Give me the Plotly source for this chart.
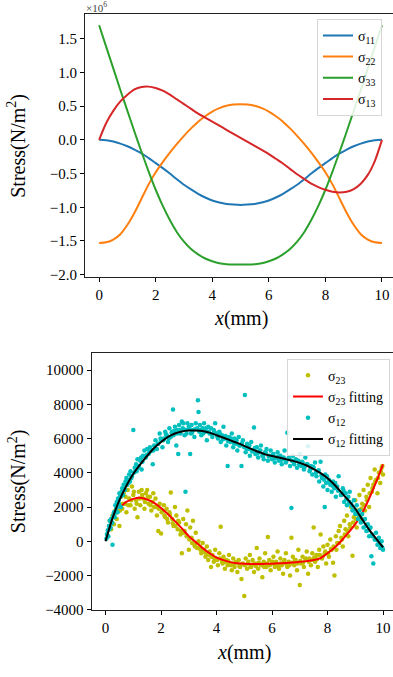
import plotly.graph_objects as go

# ---------------- top panel data (values in units of 1e6 N/m^2) ----------------
x_top = [0, 0.25, 0.5, 0.75, 1.0, 1.25, 1.5, 1.75, 2.0, 2.25, 2.5, 2.75, 3.0, 3.25,
         3.5, 3.75, 4.0, 4.25, 4.5, 4.75, 5.0, 5.25, 5.5, 5.75, 6.0, 6.25, 6.5, 6.75,
         7.0, 7.25, 7.5, 7.75, 8.0, 8.25, 8.5, 8.75, 9.0, 9.25, 9.5, 9.75, 10.0]
s11 = [0, -0.005, -0.025, -0.055, -0.095, -0.145, -0.20, -0.27, -0.345, -0.42, -0.50, -0.585, -0.665, -0.735,
       -0.80, -0.855, -0.90, -0.93, -0.95, -0.96, -0.965, -0.96, -0.95, -0.93, -0.90, -0.855, -0.80, -0.735,
       -0.665, -0.585, -0.50, -0.42, -0.345, -0.27, -0.20, -0.145, -0.095, -0.055, -0.025, -0.005, 0]
s22 = [-1.53, -1.52, -1.48, -1.40, -1.26, -1.08, -0.87, -0.66, -0.48, -0.33, -0.19, -0.06, 0.06, 0.17,
       0.27, 0.35, 0.42, 0.47, 0.505, 0.525, 0.53, 0.525, 0.505, 0.47, 0.42, 0.35, 0.27, 0.17,
       0.06, -0.06, -0.19, -0.33, -0.48, -0.66, -0.87, -1.08, -1.26, -1.40, -1.48, -1.52, -1.53]
s33 = [1.70, 1.38, 1.06, 0.74, 0.43, 0.12, -0.18, -0.47, -0.74, -0.98, -1.19, -1.37, -1.51, -1.62,
       -1.70, -1.76, -1.80, -1.83, -1.845, -1.85, -1.85, -1.85, -1.845, -1.83, -1.80, -1.76, -1.70, -1.62,
       -1.51, -1.37, -1.19, -0.98, -0.74, -0.47, -0.18, 0.12, 0.43, 0.74, 1.06, 1.38, 1.70]
s13 = [0, 0.25, 0.43, 0.57, 0.67, 0.75, 0.785, 0.79, 0.77, 0.73, 0.67, 0.60, 0.53, 0.46,
       0.39, 0.33, 0.27, 0.21, 0.15, 0.09, 0.03, -0.03, -0.09, -0.15, -0.21, -0.28, -0.35, -0.43,
       -0.51, -0.58, -0.65, -0.70, -0.74, -0.77, -0.78, -0.77, -0.73, -0.65, -0.52, -0.31, 0]
top_names = ["σ<sub>11</sub>", "σ<sub>22</sub>", "σ<sub>33</sub>", "σ<sub>13</sub>"]
top_colors = ["#1f77b4", "#ff7f0e", "#2ca02c", "#d62728"]
top_yticks = [-2.0, -1.5, -1.0, -0.5, 0.0, 0.5, 1.0, 1.5]
x_ticks = [0, 2, 4, 6, 8, 10]

# ---------------- bottom panel data ----------------
x12_fit = [0, 0.25, 0.5, 0.75, 1.0, 1.25, 1.5, 1.75, 2.0, 2.25, 2.5, 2.75, 3.0, 3.25,
           3.5, 3.75, 4.0, 4.25, 4.5, 4.75, 5.0, 5.25, 5.5, 5.75, 6.0, 6.25, 6.5, 6.75,
           7.0, 7.25, 7.5, 7.75, 8.0, 8.25, 8.5, 8.75, 9.0, 9.25, 9.5, 9.75, 10.0]
s12_fit = [0, 1350, 2400, 3250, 3950, 4500, 5000, 5450, 5800, 6100, 6300, 6420, 6470, 6480,
           6450, 6350, 6200, 6050, 5900, 5750, 5580, 5400, 5230, 5080, 4980, 4900, 4800, 4700,
           4580, 4430, 4220, 3980, 3680, 3300, 2850, 2400, 1900, 1280, 680, 160, -350]
x23_fit = [0.5, 0.75, 1.0, 1.25, 1.5, 1.75, 2.0, 2.25, 2.5, 2.75, 3.0, 3.25,
           3.5, 3.75, 4.0, 4.25, 4.5, 4.75, 5.0, 5.25, 5.5, 5.75, 6.0, 6.25, 6.5, 6.75,
           7.0, 7.25, 7.5, 7.75, 8.0, 8.25, 8.5, 8.75, 9.0, 9.25, 9.5, 9.75, 10.0]
s23_fit = [1950, 2300, 2480, 2540, 2440, 2250, 1950, 1580, 1180, 750, 300, -50,
           -400, -700, -950, -1100, -1220, -1290, -1320, -1330, -1330, -1320, -1310, -1290, -1270, -1240,
           -1200, -1160, -1100, -980, -700, -380, 30, 500, 1000, 1650, 2500, 3450, 4500]

x12_pts = [0.03, 0.05, 0.08, 0.10, 0.12, 0.15, 0.18, 0.20, 0.22, 0.25, 0.27, 0.30, 0.33, 0.35,
           0.38, 0.40, 0.43, 0.45, 0.48, 0.50, 0.52, 0.55, 0.58, 0.60, 0.63, 0.65, 0.70, 0.72,
           0.75, 0.78, 0.80, 0.85, 0.88, 0.90, 0.95, 1.00, 1.02, 1.05, 1.10, 1.12, 1.15, 1.20,
           1.25, 1.28, 1.30, 1.35, 1.40, 1.45, 1.50, 1.55, 1.60, 1.65, 1.70, 1.75, 1.80, 1.85,
           1.90, 1.95, 2.00, 2.05, 2.10, 2.15, 2.20, 2.25, 2.30, 2.35, 2.40, 2.43, 2.45, 2.50,
           2.55, 2.60, 2.62, 2.65, 2.70, 2.75, 2.78, 2.80, 2.85, 2.88, 2.90, 2.95, 3.00, 3.05,
           3.08, 3.10, 3.15, 3.20, 3.25, 3.30, 3.33, 3.35, 3.38, 3.40, 3.45, 3.50, 3.55, 3.60,
           3.65, 3.70, 3.75, 3.80, 3.85, 3.90, 3.95, 4.00, 4.05, 4.10, 4.15, 4.20, 4.25, 4.30,
           4.35, 4.40, 4.45, 4.50, 4.55, 4.60, 4.65, 4.70, 4.75, 4.80, 4.85, 4.90, 4.95, 5.00,
           5.02, 5.05, 5.10, 5.15, 5.20, 5.25, 5.30, 5.35, 5.40, 5.45, 5.50, 5.55, 5.60, 5.65,
           5.70, 5.75, 5.80, 5.85, 5.90, 5.95, 6.00, 6.05, 6.10, 6.15, 6.20, 6.25, 6.30, 6.35,
           6.40, 6.45, 6.50, 6.55, 6.60, 6.65, 6.70, 6.72, 6.75, 6.80, 6.85, 6.90, 6.95, 7.00,
           7.05, 7.10, 7.15, 7.20, 7.25, 7.30, 7.35, 7.40, 7.45, 7.50, 7.55, 7.60, 7.65, 7.70,
           7.75, 7.80, 7.85, 7.90, 7.92, 7.95, 8.00, 8.05, 8.10, 8.15, 8.20, 8.25, 8.30, 8.35,
           8.40, 8.45, 8.50, 8.55, 8.60, 8.65, 8.70, 8.75, 8.80, 8.85, 8.90, 8.95, 9.00, 9.05,
           9.10, 9.15, 9.20, 9.25, 9.30, 9.35, 9.40, 9.45, 9.50, 9.55, 9.58, 9.60, 9.65, 9.70,
           9.75, 9.80, 9.85, 9.90, 9.95, 10.00,
           0.06, 0.14, 0.24, 0.32, 0.42, 0.47, 0.57, 0.68, 0.82, 0.93, 1.08, 1.18, 1.33, 1.48,
           1.58, 1.72, 1.88, 1.98, 2.08, 2.18, 2.28, 2.38, 2.48, 2.58, 2.68, 2.82, 2.92, 3.02,
           3.12, 3.22, 3.42, 3.52, 3.62, 3.72, 3.82, 3.92, 4.02, 4.12, 4.22, 4.32, 4.42, 4.52,
           4.62, 4.72, 4.82, 4.92, 5.08, 5.18, 5.28, 5.38, 5.48, 5.58, 5.68, 5.78, 5.88, 6.02,
           6.12, 6.22, 6.32, 6.42, 6.52, 6.62, 6.78, 6.88, 6.98, 7.08, 7.18, 7.28, 7.38, 7.48,
           7.58, 7.68, 7.78, 7.88, 7.98, 8.08, 8.18, 8.28, 8.38, 8.48, 8.58, 8.68, 8.78, 8.88,
           8.98, 9.08, 9.18, 9.28, 9.38, 9.48, 9.52, 9.62, 9.72, 9.82, 9.92, 9.97]
s12_pts = [150, 420, 650, 300, 900, 1200, 800, 1300, 1050, -200, 1500, 1700, 1400, 2100,
           1900, 2300, 1700, 2500, 2200, 2800, 2600, 2000, 2900, 3100, 2700, 3300, 3000, 3500,
           3700, 3300, 3600, 3900, 3500, 4100, 3800, 6500, 4000, 4300, 4500, 4100, 4800, 4400,
           4700, 4900, 4200, 5000, 5300, 4900, 5400, 5100, 5500, 5300, 4500, 5600, 5900, 5400,
           5700, 6300, 5900, 5500, 6000, 6400, 6200, 5800, 6600, 6100, 6400, 7700, 6200, 6700,
           5600, 6500, 5100, 6800, 6300, 7000, 6600, 6900, 6200, 2900, 6500, 6900, 6700, 5100,
           6300, 6800, 6500, 6100, 6900, 6600, 8250, 7550, 6400, 6800, 6200, 6600, 6900, 6400,
           5900, 6700, 6300, 6600, 6100, 6500, 6900, 6300, 6000, 6400, 5800, 6200, 6700, 6000,
           5600, 4400, 6100, 5800, 6300, 5500, 6000, 5700, 5300, 6100, 5600, 4400, 5900, 5500,
           8550, 5200, 5700, 5400, 5000, 5800, 5300, 6650, 5100, 5500, 4900, 5300, 5600, 5000,
           4800, 5200, 5400, 4700, 5000, 5300, 4800, 5100, 4600, 4900, 5200, 4700, 5000, 4500,
           4800, 5300, 4600, 6350, 4900, 4400, 1950, 4700, 5000, 4500, 4800, 4300, 4700, 5100,
           4400, 4600, 4200, 4900, 4500, 5550, 4100, 4400, 3900, 4300, 4600, 3800, 4100, 3500,
           4650, 3700, 3200, 2000, 3900, 3400, 3000, 3600, 3300, 2900, 3500, 3100, 2600, 3200,
           3800, 5550, 2700, 3100, 2300, 2800, 2100, 2600, 2900, 2200, 1800, 2400, 1600, 2100,
           1300, 1800, 1100, 1600, 800, 1300, 600, 1000, 300, 800, -870, 400, -1300, 100,
           500, -200, 200, -400, 0, -500,
           350, 700, 1100, 1600, 2000, 2400, 2650, 3050, 3400, 3700, 4100, 4300, 4650, 5050,
           5200, 5300, 5700, 6000, 5900, 6250, 6000, 6350, 6450, 6300, 6500, 6550, 6300, 6600,
           6350, 6550, 6500, 6300, 6600, 6400, 6250, 6400, 6150, 6300, 5950, 6150, 5850, 6000,
           5750, 5900, 5600, 5750, 5450, 5600, 5250, 5450, 5150, 5300, 5000, 5150, 4950, 5050,
           4850, 4950, 4750, 4900, 4700, 4850, 4600, 4750, 4500, 4650, 4350, 4500, 4200, 4350,
           4000, 4150, 3850, 3600, 3800, 3450, 3250, 3400, 2950, 2700, 2950, 2450, 2300, 2050,
           1850, 1600, 1400, 1150, 900, 650, 750, 300, 100, 50, -250, -350]

x23_pts = [0.15, 0.20, 0.25, 0.30, 0.35, 0.40, 0.45, 0.50, 0.55, 0.60, 0.65, 0.70, 0.75, 0.80,
           0.85, 0.90, 0.95, 1.00, 1.05, 1.10, 1.15, 1.20, 1.25, 1.30, 1.35, 1.40, 1.45, 1.50,
           1.55, 1.60, 1.65, 1.70, 1.75, 1.80, 1.85, 1.90, 1.95, 2.00, 2.05, 2.10, 2.15, 2.20,
           2.25, 2.30, 2.35, 2.40, 2.45, 2.50, 2.55, 2.60, 2.65, 2.70, 2.75, 2.80, 2.85, 2.90,
           2.95, 3.00, 3.05, 3.10, 3.15, 3.20, 3.25, 3.30, 3.35, 3.40, 3.45, 3.50, 3.55, 3.60,
           3.65, 3.70, 3.75, 3.80, 3.85, 3.90, 3.95, 4.00, 4.05, 4.10, 4.15, 4.20, 4.25, 4.30,
           4.35, 4.40, 4.45, 4.50, 4.55, 4.60, 4.65, 4.70, 4.75, 4.80, 4.85, 4.90, 4.95, 5.00,
           5.05, 5.10, 5.15, 5.20, 5.25, 5.30, 5.35, 5.40, 5.45, 5.50, 5.55, 5.60, 5.65, 5.70,
           5.75, 5.80, 5.85, 5.90, 5.95, 6.00, 6.05, 6.10, 6.15, 6.20, 6.25, 6.30, 6.35, 6.40,
           6.45, 6.50, 6.55, 6.60, 6.65, 6.70, 6.75, 6.80, 6.85, 6.90, 6.95, 7.00, 7.05, 7.10,
           7.15, 7.20, 7.25, 7.30, 7.35, 7.40, 7.45, 7.50, 7.55, 7.60, 7.65, 7.70, 7.75, 7.80,
           7.85, 7.90, 7.95, 8.00, 8.05, 8.10, 8.15, 8.20, 8.25, 8.30, 8.35, 8.40, 8.45, 8.50,
           8.55, 8.60, 8.65, 8.70, 8.75, 8.80, 8.85, 8.90, 8.95, 9.00, 9.05, 9.10, 9.15, 9.20,
           9.25, 9.30, 9.35, 9.40, 9.45, 9.50, 9.55, 9.60, 9.65, 9.70, 9.75, 9.80, 9.85, 9.90,
           9.95, 10.00,
           0.32, 0.42, 0.52, 0.62, 0.72, 0.82, 0.92, 1.02, 1.12, 1.22, 1.32, 1.42, 1.52, 1.62,
           1.72, 1.82, 1.92, 2.02, 2.12, 2.22, 2.32, 2.42, 2.52, 2.62, 2.72, 2.82, 2.92, 3.02,
           3.12, 3.22, 3.32, 3.42, 3.52, 3.62, 3.72, 3.82, 3.92, 4.02, 4.12, 4.22, 4.32, 4.42,
           4.52, 4.62, 4.72, 4.82, 4.92, 5.02, 5.12, 5.22, 5.32, 5.42, 5.52, 5.62, 5.72, 5.82,
           5.92, 6.02, 6.12, 6.22, 6.32, 6.42, 6.52, 6.62, 6.72, 6.82, 6.92, 7.02, 7.12, 7.22,
           7.32, 7.42, 7.52, 7.62, 7.72, 7.82, 7.92, 8.02, 8.12, 8.22, 8.32, 8.42, 8.52, 8.62,
           8.72, 8.82, 8.92, 9.02, 9.12, 9.22, 9.32, 9.42, 9.52, 9.62, 9.72, 9.82, 9.92, 9.98]
s23_pts = [1200, 700, 1500, 1000, 1800, 1300, 2300, 900, 2600, 1900, 2800, 2200, 1700, 3000,
           2500, 2100, 3200, 2700, 1900, 2400, 1400, 2900, 2100, 3000, 2500, 1900, 2800, 3000,
           2200, 2600, 1800, 2300, 2000, 2500, 1500, 600, 2200, 450, 1800, 2100, 1400, 1900,
           1100, 1700, 2850, 1300, 900, 2000, 1500, 700, 1100, 400, -700, 1300, 600, 1000,
           1800, -500, 800, 200, 1200, -200, 500, -400, 0, -300, -700, -100, -500, -900,
           -300, -1100, -600, -1500, -800, -1200, -500, -1000, -1400, -700, 850, -1200, -900, -1600,
           -1100, -1400, -800, -1300, -1700, -1000, -1500, -1200, -1800, -1100, -1500, -2200, -1300, -3200,
           -1000, -1600, -1200, -800, -1500, -1100, -1800, -1300, -400, -1600, -1000, -1400, -2100, -1200,
           -700, -1500, 250, -1100, -1700, -1300, -900, -1500, -1200, -600, -1600, -1000, -1400, -1900,
           -1100, -700, -1500, -1200, -2000, 200, -900, -1400, -1100, -1700, -500, -2550, -1300, -900,
           -1500, -1100, -600, -1900, -1000, -1400, -700, 800, -1200, -800, -1500, -500, 400, -1000,
           -300, -700, -1300, -200, -900, 100, -500, -1250, -2000, 300, -100, 600, 900, 200,
           -300, 1200, 700, 1500, 300, 1000, 2000, -850, 1400, 2400, 800, 1800, 2700, 1300,
           2200, 3000, 1800, 2600, 3300, 2000, 3700, 2900, 3300, 4200, 3600, 2800, 4000, 3400,
           4300, 3900,
           1400, 1700, 1800, 2200, 2600, 2100, 2400, 2900, 2200, 2500, 2700, 2300, 2600, 2100,
           2800, 2000, 1900, 1700, 1500, 1300, 1550, 1050, 900, 1200, 600, 500, 300, 100,
           -100, -300, -100, -500, -600, -700, -800, -900, -1000, -1100, -1000, -1300, -1200, -1150,
           -1400, -1300, -1250, -1450, -1350, -1400, -1300, -1500, -1350, -1450, -1250, -1350, -1500, -1300,
           -1400, -1200, -1350, -1450, -1300, -1200, -1350, -1400, -1250, -1100, -1300, -1150, -1250, -1000,
           -1200, -1100, -950, -1050, -800, -900, -600, -700, -450, -300, -500, -100, 100, 400,
           600, 800, 1100, 1300, 1500, 1900, 2100, 2400, 2800, 3100, 3500, 3700, 4100, 4400]
bot_yticks = [-4000, -2000, 0, 2000, 4000, 6000, 8000, 10000]

W, H = 393, 677
SERIF = "Liberation Serif"

fig = go.Figure()
for ys, nm, c in zip([s11, s22, s33, s13], top_names, top_colors):
    fig.add_trace(go.Scatter(x=x_top, y=ys, name=nm, mode="lines",
                             line=dict(color=c, width=2, shape="spline", smoothing=0.8),
                             xaxis="x", yaxis="y", legend="legend"))

fig.add_trace(go.Scatter(x=x23_pts, y=s23_pts, name="σ<sub>23</sub>", mode="markers",
                         marker=dict(color="#bfbf00", size=4.5), xaxis="x2", yaxis="y2", legend="legend2"))
fig.add_trace(go.Scatter(x=x23_fit, y=s23_fit, name="σ<sub>23</sub> fitting", mode="lines",
                         line=dict(color="#ff0000", width=2, shape="spline", smoothing=0.8),
                         xaxis="x2", yaxis="y2", legend="legend2"))
fig.add_trace(go.Scatter(x=x12_pts, y=s12_pts, name="σ<sub>12</sub>", mode="markers",
                         marker=dict(color="#00bfbf", size=4.5), xaxis="x2", yaxis="y2", legend="legend2"))
fig.add_trace(go.Scatter(x=x12_fit, y=s12_fit, name="σ<sub>12</sub> fitting", mode="lines",
                         line=dict(color="#000000", width=2, shape="spline", smoothing=0.8),
                         xaxis="x2", yaxis="y2", legend="legend2"))

def px_x(p):
    return p / W

def px_y(p):
    return (H - p) / H

axis_common = dict(showgrid=False, zeroline=False, ticks="outside", ticklen=4, tickwidth=1,
                   tickcolor="#000", linecolor="#222", linewidth=1.2, showline=True,
                   tickfont=dict(family=SERIF, size=15, color="#000"))

fig.update_layout(
    width=W, height=H, margin=dict(l=0, r=0, t=0, b=0),
    paper_bgcolor="white", plot_bgcolor="white",
    font=dict(family=SERIF, size=15, color="#000"),
    xaxis=dict(domain=[px_x(85), 1], range=[-0.5, 10.39], tickvals=x_ticks, anchor="y",
               mirror=True, **axis_common),
    yaxis=dict(domain=[px_y(280), px_y(14)], range=[-2.03, 1.87], tickvals=top_yticks,
               tickformat=".1f", anchor="x", **axis_common),
    xaxis2=dict(domain=[px_x(91.7), 1], range=[-0.5, 10.36], tickvals=x_ticks, anchor="y2",
                mirror=True, **axis_common),
    yaxis2=dict(domain=[px_y(617), px_y(357.3)], range=[-4000, 11000], tickvals=bot_yticks,
                tickformat="d", anchor="x2", **axis_common),
    legend=dict(x=px_x(317), y=px_y(19), xanchor="left", yanchor="top",
                bgcolor="rgba(255,255,255,0.85)", bordercolor="#d6d6d6", borderwidth=1,
                font=dict(family=SERIF, size=14), tracegroupgap=0),
    legend2=dict(x=px_x(287), y=px_y(363), xanchor="left", yanchor="top",
                 bgcolor="rgba(255,255,255,0.85)", bordercolor="#d6d6d6", borderwidth=1,
                 font=dict(family=SERIF, size=14), tracegroupgap=0),
    showlegend=True,
)

ann = [
    dict(text="Stress(N/m<sup>2</sup>)", x=px_x(17), y=px_y(147.5), textangle=-90),
    dict(text="Stress(N/m<sup>2</sup>)", x=px_x(17), y=px_y(487), textangle=-90),
    dict(text="<i>x</i>(mm)", x=px_x(240.5), y=px_y(322)),
    dict(text="<i>x</i>(mm)", x=px_x(244), y=px_y(660)),
]
for a in ann:
    fig.add_annotation(xref="paper", yref="paper", xanchor="center", yanchor="middle",
                       showarrow=False, font=dict(family=SERIF, size=20, color="#000"), **a)
fig.add_annotation(text="×10<sup>6</sup>", xref="paper", yref="paper", x=px_x(84), y=px_y(7),
                   xanchor="left", yanchor="middle", showarrow=False,
                   font=dict(family=SERIF, size=11, color="#444"))

fig.write_html("out.html")
